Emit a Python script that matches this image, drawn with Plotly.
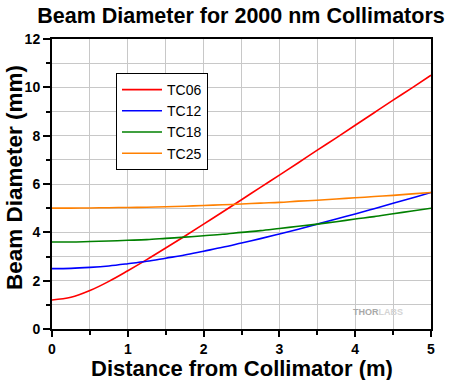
import plotly.graph_objects as go

distance_m = [0, 0.25, 0.5, 0.75, 1.0, 1.25, 1.5, 1.75, 2.0, 2.25, 2.5, 2.75, 3.0, 3.25, 3.5, 3.75, 4.0, 4.25, 4.5, 4.75, 5.0]
tc06 = [1.20, 1.31, 1.59, 1.97, 2.41, 2.87, 3.35, 3.84, 4.34, 4.84, 5.35, 5.86, 6.37, 6.88, 7.40, 7.91, 8.43, 8.95, 9.47, 9.98, 10.50]
tc12 = [2.50, 2.51, 2.55, 2.61, 2.70, 2.80, 2.93, 3.06, 3.22, 3.38, 3.56, 3.74, 3.93, 4.13, 4.34, 4.55, 4.76, 4.98, 5.20, 5.42, 5.65]
tc18 = [3.60, 3.60, 3.62, 3.64, 3.67, 3.70, 3.75, 3.80, 3.86, 3.92, 4.00, 4.07, 4.16, 4.25, 4.34, 4.44, 4.55, 4.65, 4.77, 4.88, 5.00]
tc25 = [5.00, 5.00, 5.01, 5.02, 5.03, 5.04, 5.06, 5.08, 5.11, 5.14, 5.17, 5.21, 5.24, 5.29, 5.33, 5.38, 5.43, 5.48, 5.53, 5.59, 5.65]

series = [("TC06", tc06, "#FF0000"), ("TC12", tc12, "#0000FF"),
          ("TC18", tc18, "#008000"), ("TC25", tc25, "#FF8000")]

FONT = "Liberation Sans, Arial, sans-serif"
GRID = "#C8C8C8"

fig = go.Figure()
for name, ys, col in series:
    fig.add_trace(go.Scatter(x=distance_m, y=ys, mode="lines", name=name,
                             line=dict(color=col, width=1.6, shape="spline")))

axis_common = dict(
    ticks="outside", tickwidth=2, tickcolor="black",
    showline=True, linecolor="black", linewidth=2, mirror=True,
    showgrid=True, gridcolor=GRID, gridwidth=1, zeroline=False,
    automargin=False,
    tickfont=dict(size=14, family=FONT, weight="bold"),
)

fig.update_layout(
    width=450, height=380,
    margin=dict(l=52, r=19, t=39, b=51),
    paper_bgcolor="white", plot_bgcolor="white",
    font=dict(family=FONT, color="black"),
    title=dict(text="<b>Beam Diameter for 2000 nm Collimators</b>",
               x=241 / 450, xanchor="center", y=1 - 15.5 / 380, yanchor="middle",
               font=dict(size=21.5, family=FONT, color="black")),
    legend=dict(x=(116 - 52) / 379, y=(329 - 73) / 290, xanchor="left", yanchor="top",
                bordercolor="black", borderwidth=1, bgcolor="white",
                font=dict(size=14, family=FONT), tracegroupgap=0, itemwidth=40),
    xaxis=dict(range=[0, 5], tickvals=[0, 1, 2, 3, 4, 5], ticklen=6,
               minor=dict(dtick=0.5, tick0=0, ticks="outside", ticklen=4, tickwidth=2,
                          tickcolor="black", showgrid=True, gridcolor=GRID, gridwidth=1),
               **axis_common),
    yaxis=dict(range=[0, 12], tickvals=[0, 2, 4, 6, 8, 10, 12], ticklen=7,
               minor=dict(dtick=1, tick0=0, ticks="outside", ticklen=4, tickwidth=2,
                          tickcolor="black", showgrid=True, gridcolor=GRID, gridwidth=1),
               **axis_common),
    showlegend=True,
)

# axis titles
fig.add_annotation(text="<b>Distance from Collimator (m)</b>", xref="paper", yref="paper",
                   x=0.5, y=0, yshift=-39, xanchor="center", yanchor="middle",
                   showarrow=False, font=dict(size=22, family=FONT, color="black"))
fig.add_annotation(text="<b>Beam Diameter (mm)</b>", xref="paper", yref="paper",
                   x=0, y=(329 - 178) / 290, xshift=-38, xanchor="center", yanchor="middle",
                   textangle=-90, showarrow=False,
                   font=dict(size=22.5, family=FONT, color="black"))

fig.add_annotation(text="<b>THOR<span style='color:#D4D4D4'>LABS</span></b>",
                   xref="paper", yref="paper",
                   x=(405 - 52) / 379, y=(329 - 312) / 290, xanchor="right", yanchor="middle",
                   showarrow=False, font=dict(size=9, color="#A8A8A8", family=FONT))

fig.write_html("out.html", config={"displayModeBar": False},
               post_script="document.body.style.margin='0';")
